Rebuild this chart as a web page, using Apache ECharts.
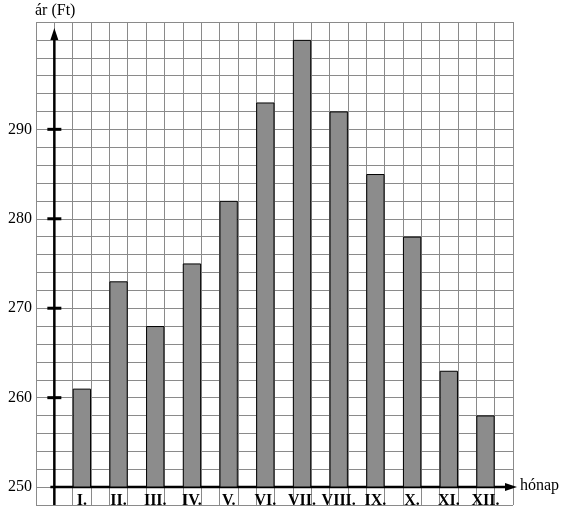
<!DOCTYPE html>
<html><head><meta charset="utf-8">
<script src="https://cdn.jsdelivr.net/npm/echarts@6/dist/echarts.min.js"></script>
<style>html,body{margin:0;padding:0;background:#fff}#c{width:572px;height:518px}</style>
</head><body><div id="c"></div>
<script>
const categories = ['I.','II.','III.','IV.','V.','VI.','VII.','VIII.','IX.','X.','XI.','XII.'];
const prices = [261,273,268,275,282,293,300,292,285,278,263,258];
const yTickLabels = [250,260,270,280,290];

const W=572,H=518,L=36,R=513,T=22,B=505;
const cell=(R-L)/26;
const font='"Liberation Serif", "DejaVu Serif", serif';
const chart=echarts.init(document.getElementById('c'));
chart.setOption({
  animation:false,
  grid:[
    {left:L,right:W-R,top:T,bottom:H-B},
    {left:L+1.5*cell,right:W-R+0.5*cell,top:T,bottom:H-487}
  ],
  xAxis:[
    {gridIndex:0,type:'value',min:0,max:26,interval:1,axisLine:{show:false},axisTick:{show:false},axisLabel:{show:false},
     splitLine:{lineStyle:{color:'#8a8a8a',width:1}}},
    {gridIndex:1,type:'category',data:categories,axisLine:{show:false},axisTick:{show:false},
     axisLabel:{fontFamily:font,fontWeight:'bold',fontSize:16,color:'#000',margin:6,interval:0}}
  ],
  yAxis:[
    {gridIndex:0,type:'value',min:248,max:302,interval:2,axisLine:{show:false},axisTick:{show:false},
     axisLabel:{fontFamily:font,fontSize:16,color:'#000',margin:4,
       formatter:v=>yTickLabels.includes(v)?String(v):''},
     splitLine:{lineStyle:{color:'#8a8a8a',width:1}}},
    {gridIndex:1,type:'value',min:250,max:302,show:false,splitLine:{show:false}}
  ],
  series:[{type:'bar',xAxisIndex:1,yAxisIndex:1,data:prices,barWidth:cell,
    itemStyle:{color:'#8c8c8c',borderColor:'#000',borderWidth:1}}]
});
const axX=L+cell;
const y0=chart.convertToPixel({xAxisIndex:0,yAxisIndex:0},[0,250])[1];
const g=[
  {type:'line',shape:{x1:axX,y1:B,x2:axX,y2:34},style:{stroke:'#000',lineWidth:2.5}},
  {type:'polygon',shape:{points:[[axX,28],[axX-4,40],[axX+4,40]]},style:{fill:'#000'}},
  {type:'line',shape:{x1:axX-4,y1:y0,x2:R-4,y2:y0},style:{stroke:'#000',lineWidth:2.5}},
  {type:'polygon',shape:{points:[[R+4,y0],[R-8,y0-4],[R-8,y0+4]]},style:{fill:'#000'}},
  {type:'text',x:L-1,y:3,style:{text:'ár (Ft)',font:'16px '+font,fill:'#000'}},
  {type:'text',x:R+7,y:y0-9,style:{text:'hónap',font:'16px '+font,fill:'#000'}}
];
yTickLabels.slice(1).forEach(v=>{
  const y=chart.convertToPixel({xAxisIndex:0,yAxisIndex:0},[0,v])[1];
  g.push({type:'line',shape:{x1:axX-7,y1:y,x2:axX+7,y2:y},style:{stroke:'#000',lineWidth:3}});
});
chart.setOption({graphic:g});
</script></body></html>
